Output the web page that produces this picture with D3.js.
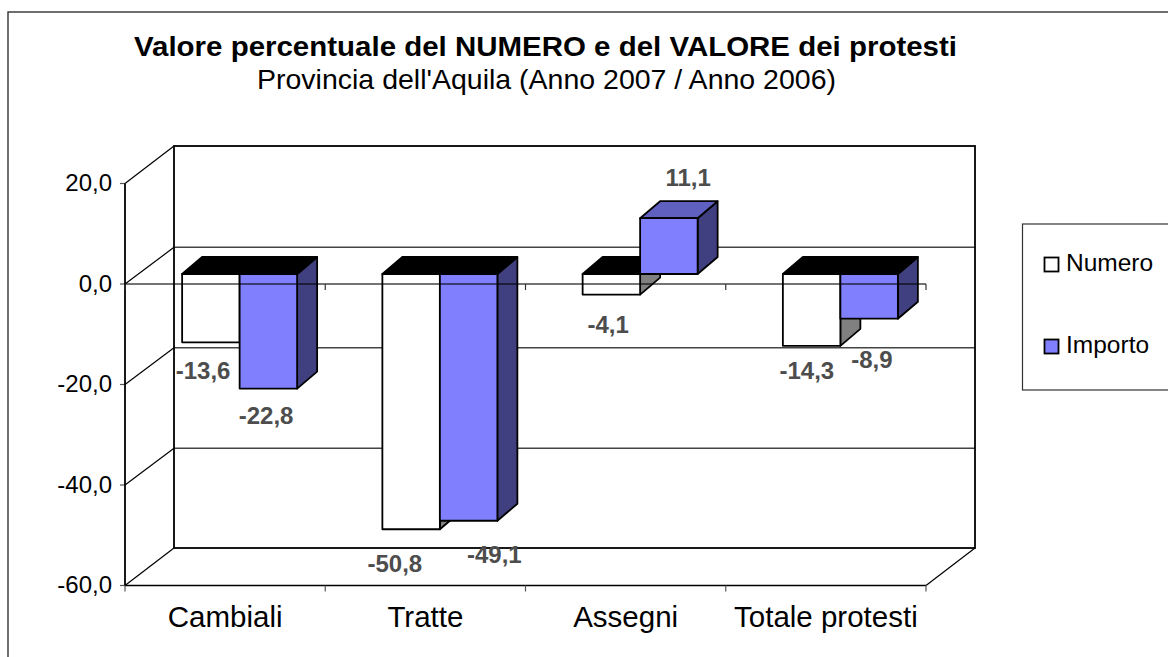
<!DOCTYPE html>
<html><head><meta charset="utf-8">
<script src="https://cdn.jsdelivr.net/npm/d3@7"></script>
<style>html,body{margin:0;padding:0;background:#fff}svg{display:block}text{font-family:"Liberation Sans",Arial,sans-serif}</style>
</head><body><svg id="c" width="1168" height="657"></svg>
<script>
const categories=["Cambiali","Tratte","Assegni","Totale protesti"];
const seriesNames=["Numero","Importo"];
const numero=[-13.6,-50.8,-4.1,-14.3];
const importo=[-22.8,-49.1,11.1,-8.9];
const yTicks=[20,0,-20,-40,-60];
const labelOffsets={Numero:[[-7,36.5],[-15.5,42.5],[-2.5,38],[-4,33]],Importo:[[-2,35.5],[26,42.5],[19.5,-32.5],[3,49.5]]};

const svg=d3.select("#c");
const x=d3.scaleBand().domain(categories).range([125,926]);
const y=d3.scaleLinear().domain([-60,20]).range([585.5,183.5]);
const fmt=v=>d3.format(".1f")(v).replace(".",",").replace("−","-");
const wall={dx:49,dy:-37.5,gridDy:-36.7};
const bar={fx:14.5,fy:-10,w:57.5,dx:20,dy:-17};
const line=(x1,y1,x2,y2,c,w)=>svg.append("line").attr("x1",x1).attr("y1",y1).attr("x2",x2).attr("y2",y2).attr("stroke",c).attr("stroke-width",w);
const poly=(pts,fill)=>svg.append("polygon").attr("points",pts.map(p=>p.join(",")).join(" ")).attr("fill",fill).attr("stroke","#000").attr("stroke-width",1.8).attr("stroke-linejoin","round");

// chart frame
svg.append("rect").attr("x",8).attr("y",12).attr("width",1200).attr("height",700).attr("fill","#fff").attr("stroke","#222").attr("stroke-width",1.3);

// titles
svg.append("text").attr("x",545.5).attr("y",56).attr("text-anchor","middle").attr("font-size",27).attr("font-weight","bold").attr("textLength",823).attr("lengthAdjust","spacingAndGlyphs").text("Valore percentuale del NUMERO e del VALORE dei protesti");
svg.append("text").attr("x",546.5).attr("y",89).attr("text-anchor","middle").attr("font-size",28).attr("textLength",579).attr("lengthAdjust","spacingAndGlyphs").text("Provincia dell'Aquila (Anno 2007 / Anno 2006)");

// walls
const xL=x.range()[0],xR=x.range()[1];
yTicks.forEach(t=>{
  const yy=y(t);
  const d=(t===20||t===-60)?wall.dy:wall.gridDy;
  if(t!==20&&t!==-60) line(xL+wall.dx,yy+d,xR+wall.dx,yy+d,"#444",1.5);
  line(xL,yy,xL+wall.dx,yy+d,"#000",1.2);
  line(xL-5,yy,xL,yy,"#555",1.2);
  svg.append("text").attr("x",xL-13).attr("y",yy+7.5).attr("text-anchor","end").attr("font-size",24).text(fmt(t));
});
svg.append("rect").attr("x",xL+wall.dx).attr("y",y(20)+wall.dy).attr("width",xR-xL).attr("height",y(-60)-y(20)).attr("fill","none").attr("stroke","#000").attr("stroke-width",1.8);
line(xL,y(20),xL,y(-60),"#000",1.8);
line(xL,y(-60),xR,y(-60),"#000",1.6);
line(xR,y(-60),xR+wall.dx,y(-60)+wall.dy,"#000",1.2);

// bars
const drawBar=(cat,i,v,colors)=>{
  const x0=x(cat)+x.bandwidth()/2+bar.fx+(i-1)*bar.w;
  const x1=x0+bar.w;
  const yZ=y(0)+bar.fy, yV=y(v)+bar.fy;
  const top=Math.min(yZ,yV), bot=Math.max(yZ,yV);
  poly([[x1,top],[x1+bar.dx,top+bar.dy],[x1+bar.dx,bot+bar.dy],[x1,bot]],colors.side);
  poly([[x0,top],[x0+bar.dx,top+bar.dy],[x1+bar.dx,top+bar.dy],[x1,top]],v<0?"#000":colors.top);
  poly([[x0,top],[x1,top],[x1,bot],[x0,bot]],colors.front);
};
const colN={front:"#fff",side:"#808080",top:"#808080"};
const colI={front:"#8080ff",side:"#404080",top:"#6060c0"};
categories.forEach((c,k)=>{
  drawBar(c,0,numero[k],colN);
  drawBar(c,1,importo[k],colI);
});

// zero axis, semi-transparent over the bars
line(xL,y(0),xR,y(0),"#000",1.5).attr("opacity",.72);
[...categories.map(c=>x(c)),xR].forEach(t=>{
  line(t,y(0),t,y(0)+6,"#333",1.2);
  line(t,y(-60),t,y(-60)+6,"#555",1.2);
});

// data labels
const addLabel=(c,i,v,off)=>{
  const cx=x(c)+x.bandwidth()/2+14+(i-1)*58+29;
  svg.append("text").attr("x",cx+off[0]).attr("y",y(v)+bar.fy+off[1]).attr("text-anchor","middle").attr("font-size",24).attr("font-weight","bold").attr("fill","#4d4d4d").text(fmt(v));
};
categories.forEach((c,k)=>{
  addLabel(c,0,numero[k],labelOffsets.Numero[k]);
  addLabel(c,1,importo[k],labelOffsets.Importo[k]);
});

// category labels
categories.forEach(c=>svg.append("text").attr("x",x(c)+x.bandwidth()/2).attr("y",627).attr("text-anchor","middle").attr("font-size",29.5).text(c));

// legend
svg.append("rect").attr("x",1022.5).attr("y",224).attr("width",200).attr("height",166).attr("fill","#fff").attr("stroke","#333").attr("stroke-width",1.2);
seriesNames.forEach((n,i)=>{
  const ly=[264.5,346.5][i];
  svg.append("rect").attr("x",1044.5).attr("y",ly-7).attr("width",14).attr("height",14).attr("fill",i?colI.front:colN.front).attr("stroke","#000").attr("stroke-width",1.8);
  svg.append("text").attr("x",1066).attr("y",ly+6.5).attr("font-size",24.5).text(n);
});
</script></body></html>
